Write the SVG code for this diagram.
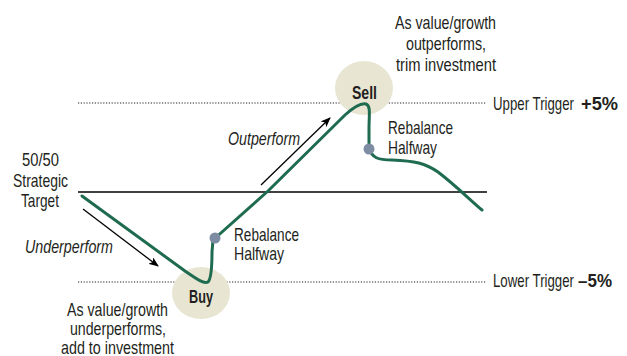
<svg xmlns="http://www.w3.org/2000/svg" width="627" height="356" viewBox="0 0 627 356">
<style>
text{font-family:"Liberation Sans",Arial,sans-serif;font-size:18.5px;fill:#231f20}
.i{font-style:italic}
.b{font-weight:bold}
.dot{stroke:#231f20;stroke-width:1.2;stroke-dasharray:1.2 1.6;fill:none}
.bub{fill:#e8e6d3}
.curve{fill:none;stroke:#1e6b4f;stroke-width:3;stroke-linecap:round;stroke-linejoin:round}
.arr{stroke:#000;stroke-width:1.3;fill:none;marker-end:url(#ah)}
.pt{fill:#7d8ca3}
</style>
<defs>
<marker id="ah" markerWidth="10" markerHeight="8" refX="9" refY="4" orient="auto" markerUnits="userSpaceOnUse">
<path d="M0,0 L10,4 L0,8 L2.5,4 Z" fill="#000"/>
</marker>
</defs>
<g id="guides">
<line class="dot" x1="78" y1="103" x2="486" y2="103"/>
<line x1="78" y1="192" x2="487" y2="192" stroke="#000" stroke-width="1.3"/>
<line class="dot" x1="78" y1="282" x2="486" y2="282"/>
</g>
<g id="buy">
<ellipse class="bub" cx="201" cy="293" rx="29" ry="26"/>
<text class="b" x="189" y="303" textLength="24" lengthAdjust="spacingAndGlyphs">Buy</text>
</g>
<g id="sell">
<ellipse class="bub" cx="364" cy="88" rx="29" ry="27"/>
<text class="b" x="352" y="99" textLength="25" lengthAdjust="spacingAndGlyphs">Sell</text>
</g>
<g id="connectors">
<path class="curve" d="M82,196 L185,271 C198,280 204,284 208,282 C212,278 212,262 212,252 L213,240 L268,191 L345,115 C355,106 362,103 366,104 C371,106 369,115 369,128 L369,148 C372,158 378,160 392,160 C415,161 425,163 438,172 C455,185 468,198 482,210"/>
<line class="arr" x1="83" y1="209" x2="158" y2="266"/>
<line class="arr" x1="261" y1="185" x2="330" y2="118"/>
</g>
<g id="rebal1">
<circle class="pt" cx="215" cy="238" r="5.5"/>
<text x="234" y="241" textLength="65" lengthAdjust="spacingAndGlyphs">Rebalance</text>
<text x="234" y="260" textLength="50" lengthAdjust="spacingAndGlyphs">Halfway</text>
</g>
<g id="rebal2">
<circle class="pt" cx="369" cy="149" r="5.5"/>
<text x="388" y="134" textLength="65" lengthAdjust="spacingAndGlyphs">Rebalance</text>
<text x="388" y="154" textLength="49" lengthAdjust="spacingAndGlyphs">Halfway</text>
</g>
<g id="target">
<text x="22" y="166" textLength="37" lengthAdjust="spacingAndGlyphs">50/50</text>
<text x="13" y="187" textLength="55" lengthAdjust="spacingAndGlyphs">Strategic</text>
<text x="21" y="207" textLength="38" lengthAdjust="spacingAndGlyphs">Target</text>
</g>
<text class="i" x="25" y="253" textLength="88" lengthAdjust="spacingAndGlyphs">Underperform</text>
<text class="i" x="228" y="145" textLength="72" lengthAdjust="spacingAndGlyphs">Outperform</text>
<g id="note-buy">
<text x="67" y="316" textLength="101" lengthAdjust="spacingAndGlyphs">As value/growth</text>
<text x="70" y="335" textLength="96" lengthAdjust="spacingAndGlyphs">underperforms,</text>
<text x="61" y="354" textLength="113" lengthAdjust="spacingAndGlyphs">add to investment</text>
</g>
<g id="note-sell">
<text x="395" y="29" textLength="101" lengthAdjust="spacingAndGlyphs">As value/growth</text>
<text x="406" y="50" textLength="80" lengthAdjust="spacingAndGlyphs">outperforms,</text>
<text x="396" y="71" textLength="100" lengthAdjust="spacingAndGlyphs">trim investment</text>
</g>
<g id="upper-label">
<text x="493" y="110" textLength="81" lengthAdjust="spacingAndGlyphs">Upper Trigger</text>
<text class="b" x="581" y="110" textLength="37" lengthAdjust="spacingAndGlyphs">+5%</text>
</g>
<g id="lower-label">
<text x="493" y="287" textLength="81" lengthAdjust="spacingAndGlyphs">Lower Trigger</text>
<text class="b" x="578" y="287" textLength="34" lengthAdjust="spacingAndGlyphs">–5%</text>
</g>
</svg>
